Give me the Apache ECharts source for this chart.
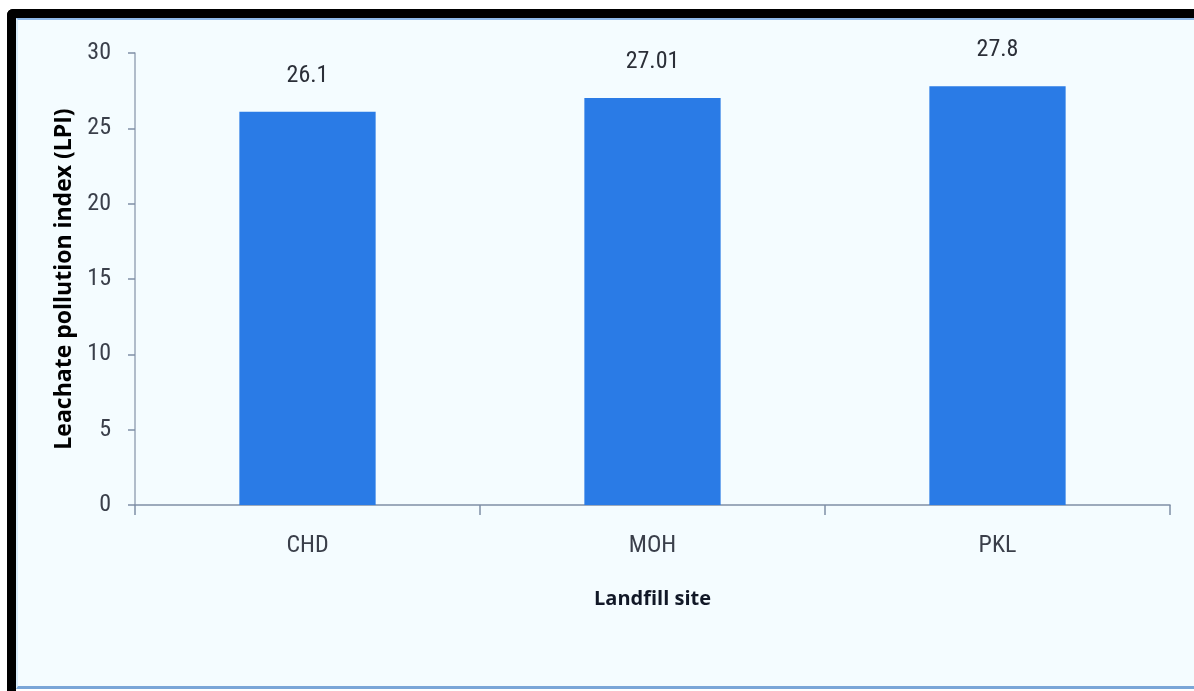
<!DOCTYPE html>
<html>
<head>
<meta charset="utf-8">
<script src="https://cdn.jsdelivr.net/npm/echarts@6/dist/echarts.min.js"></script>
<style>
  html, body { margin: 0; padding: 0; background: #ffffff; }
  #wrap { position: relative; width: 1194px; height: 691px; overflow: hidden; }
  #frame {
    position: absolute; left: 7px; top: 9px; width: 1200px; height: 700px;
    border-left: 9px solid #000; border-top: 9px solid #000;
    border-top-left-radius: 6px; box-sizing: border-box;
  }
  #panel {
    position: absolute; left: 16px; top: 18px; right: -10px; bottom: 2px;
    background: #f4fcff; border-top: 2px solid #8fb9e8; border-left: 2px solid #d8ecfa;
    border-bottom: 3px solid #7aa6d8; box-sizing: border-box;
  }
  #chart { position: absolute; left: 0; top: 0; width: 1194px; height: 691px; }
</style>
</head>
<body>
<div id="wrap">
  <div id="frame"></div>
  <div id="panel"></div>
  <div id="chart"></div>
</div>
<script>
// Landfill sites and their leachate pollution index
const sites = ['CHD', 'MOH', 'PKL'];
const lpiValues = [26.1, 27.01, 27.8];
const lpiLabels = ['26.1', '27.01', '27.8'];
const yTicks = { min: 0, max: 30, interval: 5 };

const narrow = '"Liberation Sans Narrow", "Roboto Condensed", "Liberation Sans", sans-serif';
const boldFont = '"Open Sans", "Noto Sans", sans-serif';

const chart = echarts.init(document.getElementById('chart'), null, { renderer: 'canvas' });
chart.setOption({
  backgroundColor: 'transparent',
  animation: false,
  grid: { left: 135, right: 24, top: 53, bottom: 186, containLabel: false },
  xAxis: {
    type: 'category',
    data: sites,
    name: 'Landfill site',
    nameLocation: 'middle',
    nameGap: 84,
    nameTextStyle: { fontFamily: boldFont, fontWeight: 'bold', fontSize: 20, color: '#111827' },
    axisLine: { lineStyle: { color: '#7f8fa6', width: 1.5 } },
    axisTick: { show: true, alignWithLabel: false, length: 10, lineStyle: { color: '#7f8fa6', width: 1.5 } },
    axisLabel: { margin: 29, fontFamily: narrow, fontSize: 24, color: '#3a3f4a' }
  },
  yAxis: {
    type: 'value',
    min: yTicks.min, max: yTicks.max, interval: yTicks.interval,
    name: 'Leachate pollution index (LPI)',
    nameLocation: 'middle',
    nameGap: 58,
    nameTextStyle: { fontFamily: boldFont, fontWeight: 'bold', fontSize: 23, color: '#000000' },
    axisLine: { show: true, lineStyle: { color: '#9aa7b8', width: 1.5 } },
    axisTick: { show: true, length: 7, lineStyle: { color: '#7f8fa6', width: 1.5 } },
    splitLine: { show: false },
    axisLabel: { margin: 24, fontFamily: narrow, fontSize: 24, color: '#3a3f4a' }
  },
  series: [{
    type: 'bar',
    data: lpiValues,
    barWidth: '39.5%',
    itemStyle: { color: '#2a7be6' },
    label: {
      show: true,
      position: 'top',
      distance: 24,
      fontFamily: narrow,
      fontSize: 24,
      color: '#2b2f38',
      formatter: p => lpiLabels[p.dataIndex]
    }
  }]
});
</script>
</body>
</html>
